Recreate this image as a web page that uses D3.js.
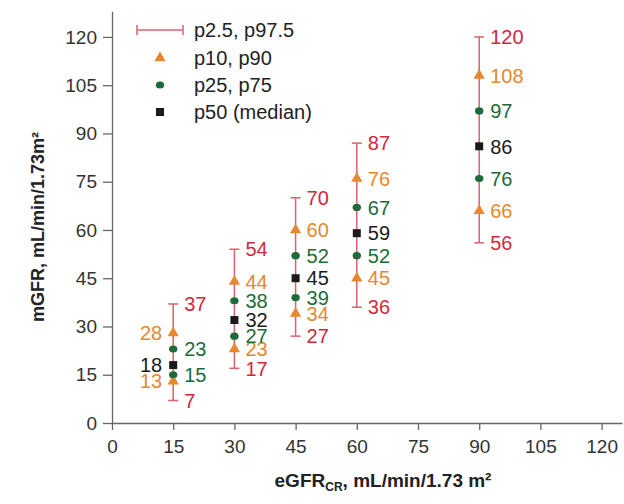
<!DOCTYPE html>
<html>
<head>
<meta charset="utf-8">
<script src="https://cdn.jsdelivr.net/npm/d3@7"></script>
<style>
  body { margin: 0; background: #fff; }
  svg { font-family: "Liberation Sans", Arial, sans-serif; }
  .axis path, .axis line { stroke: #666; stroke-width: 1.3; }
  .axis text { fill: #333; font-size: 19px; }
</style>
</head>
<body>
<div id="chart"></div>
<script>
// eGFR groups (x) and mGFR percentiles (y)
var eGFR = [15, 30, 45, 60, 90];
var p2_5 = [7, 17, 27, 36, 56];
var p10 = [13, 23, 34, 45, 66];
var p25 = [15, 27, 39, 52, 76];
var p50 = [18, 32, 45, 59, 86];
var p75 = [23, 38, 52, 67, 97];
var p90 = [28, 44, 60, 76, 108];
var p97_5 = [37, 54, 70, 87, 120];

var xTicks = [0, 15, 30, 45, 60, 75, 90, 105, 120];
var yTicks = [0, 15, 30, 45, 60, 75, 90, 105, 120];

var legendLabels = ['p2.5, p97.5', 'p10, p90', 'p25, p75', 'p50 (median)'];

var colors = {red: '#d3283a', bar: '#d9626c', orange: '#e8872c', green: '#1d6a3a', black: '#1a1a1a'};

var svgWidth = 624, svgHeight = 504;

var svg = d3.select('#chart').append('svg')
    .attr('width', svgWidth).attr('height', svgHeight);

var x = d3.scaleLinear().domain([0, 125]).range([112, 622]);
var y = d3.scaleLinear().domain([0, 128]).range([423, 11.2]);

// axes
svg.append('g')
    .attr('class', 'axis')
    .attr('transform', 'translate(0,' + y(0) + ')')
    .call(d3.axisBottom(x).tickValues(xTicks).tickSize(7).tickPadding(10).tickSizeOuter(0));

svg.append('g')
    .attr('class', 'axis')
    .attr('transform', 'translate(' + x(0) + ',0)')
    .call(d3.axisLeft(y).tickValues(yTicks).tickSize(9).tickPadding(6).tickSizeOuter(0));

// axis titles
var xTitle = svg.append('text')
    .attr('x', 383).attr('y', 487)
    .attr('text-anchor', 'middle')
    .style('font-size', '19px').style('font-weight', 'bold').attr('fill', '#222');
xTitle.append('tspan').text('eGFR');
xTitle.append('tspan').text('CR').style('font-size', '12px').attr('dy', 4);
xTitle.append('tspan').text(', mL/min/1.73 m²').attr('dy', -4);

svg.append('text')
    .attr('transform', 'translate(44,227) rotate(-90)')
    .attr('text-anchor', 'middle')
    .style('font-size', '18px').style('font-weight', 'bold').attr('fill', '#222')
    .text('mGFR, mL/min/1.73m²');

// error bars p2.5 - p97.5
var rows = eGFR.map(function(d, i) {
    return {x: d, lo: p2_5[i], hi: p97_5[i]};
});

var bars = svg.append('g');
bars.selectAll('line.v').data(rows).enter().append('line')
    .attr('x1', function(d) { return x(d.x); })
    .attr('x2', function(d) { return x(d.x); })
    .attr('y1', function(d) { return y(d.lo); })
    .attr('y2', function(d) { return y(d.hi); })
    .attr('stroke', colors.bar).attr('stroke-width', 1.5);

['lo', 'hi'].forEach(function(k) {
    bars.selectAll('line.' + k).data(rows).enter().append('line')
        .attr('x1', function(d) { return x(d.x) - 5; })
        .attr('x2', function(d) { return x(d.x) + 5; })
        .attr('y1', function(d) { return y(d[k]); })
        .attr('y2', function(d) { return y(d[k]); })
        .attr('stroke', colors.bar).attr('stroke-width', 1.5);
});

// markers
var tri = d3.symbol().type(d3.symbolTriangle).size(55);
var sq = d3.symbol().type(d3.symbolSquare).size(64);

function drawPoints(vals, kind, color) {
    var g = svg.append('g');
    var pts = eGFR.map(function(d, i) { return {x: d, v: vals[i]}; });
    if (kind === 'circle') {
        g.selectAll('ellipse').data(pts).enter().append('ellipse')
            .attr('cx', function(d) { return x(d.x); })
            .attr('cy', function(d) { return y(d.v); })
            .attr('rx', 4.2).attr('ry', 3.6)
            .attr('fill', color);
    } else {
        g.selectAll('path').data(pts).enter().append('path')
            .attr('d', kind === 'tri' ? tri : sq)
            .attr('transform', function(d) { return 'translate(' + x(d.x) + ',' + y(d.v) + ')'; })
            .attr('fill', color);
    }
}

drawPoints(p10, 'tri', colors.orange);
drawPoints(p90, 'tri', colors.orange);
drawPoints(p25, 'circle', colors.green);
drawPoints(p75, 'circle', colors.green);
drawPoints(p50, 'square', colors.black);

// value labels (the first group has some labels on the left)
function drawLabels(vals, color, leftFirst) {
    svg.append('g').selectAll('text').data(eGFR).enter().append('text')
        .attr('x', function(d, i) { return leftFirst && i === 0 ? x(d) - 11 : x(d) + 11; })
        .attr('y', function(d, i) { return y(vals[i]); })
        .attr('dy', '0.36em')
        .attr('text-anchor', function(d, i) { return leftFirst && i === 0 ? 'end' : 'start'; })
        .style('font-size', '20px')
        .attr('fill', color)
        .text(function(d, i) { return vals[i]; });
}

drawLabels(p2_5, colors.red, false);
drawLabels(p97_5, colors.red, false);
drawLabels(p10, colors.orange, true);
drawLabels(p90, colors.orange, true);
drawLabels(p25, colors.green, false);
drawLabels(p75, colors.green, false);
drawLabels(p50, colors.black, true);

// legend
var legend = svg.append('g');
var ly = [30, 58, 85, 112];

legend.append('line').attr('x1', 137).attr('x2', 183).attr('y1', ly[0]).attr('y2', ly[0])
    .attr('stroke', colors.bar).attr('stroke-width', 1.5);
[137, 183].forEach(function(px) {
    legend.append('line').attr('x1', px).attr('x2', px).attr('y1', ly[0] - 5).attr('y2', ly[0] + 5)
        .attr('stroke', colors.bar).attr('stroke-width', 1.5);
});
legend.append('path').attr('d', tri).attr('transform', 'translate(160,' + ly[1] + ')').attr('fill', colors.orange);
legend.append('ellipse').attr('cx', 160).attr('cy', ly[2]).attr('rx', 4.2).attr('ry', 3.6).attr('fill', colors.green);
legend.append('path').attr('d', sq).attr('transform', 'translate(160,' + ly[3] + ')').attr('fill', colors.black);

legend.selectAll('text.lab').data(legendLabels).enter().append('text')
    .attr('x', 194)
    .attr('y', function(d, i) { return ly[i]; })
    .attr('dy', '0.36em')
    .style('font-size', '20px')
    .attr('fill', '#222')
    .text(function(d) { return d; });
</script>
</body>
</html>
